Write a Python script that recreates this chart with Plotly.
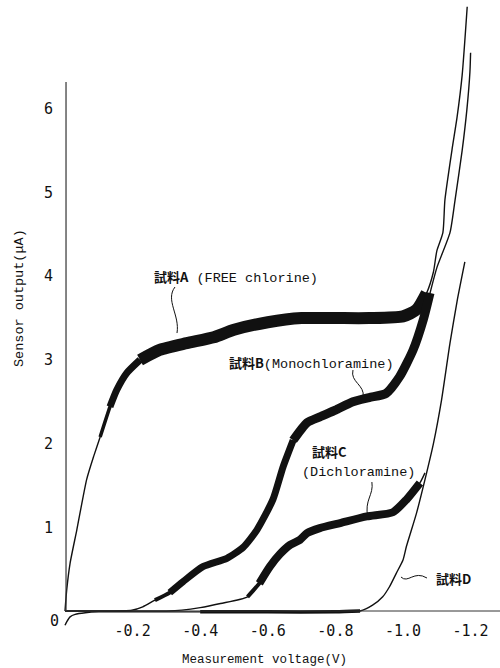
import plotly.graph_objects as go

# ---------------- data ----------------
# Measurement voltage (V) and sensor output (uA)
a_v = [0.0, -0.005, -0.015, -0.035, -0.064, -0.085, -0.104, -0.133, -0.153, -0.182,
       -0.222, -0.28, -0.36, -0.44, -0.5, -0.6, -0.7, -0.8, -0.9, -1.0,
       -1.04, -1.07, -1.09, -1.10, -1.118, -1.124, -1.145, -1.16, -1.175, -1.19]
a_i = [0.0, 0.25, 0.57, 0.97, 1.57, 1.85, 2.08, 2.44, 2.64, 2.84,
       3.0, 3.12, 3.2, 3.27, 3.36, 3.45, 3.5, 3.5, 3.5, 3.52,
       3.6, 3.8, 4.05, 4.3, 4.52, 4.91, 5.51, 5.9, 6.4, 7.22]

b_v = [0.0, -0.1, -0.198, -0.23, -0.266, -0.31, -0.349, -0.408, -0.479, -0.527,
       -0.568, -0.615, -0.645, -0.675, -0.716, -0.754, -0.8, -0.852, -0.9, -0.95,
       -0.99, -1.03, -1.06, -1.08, -1.10, -1.139, -1.154, -1.175, -1.189, -1.198, -1.20]
b_i = [0.0, 0.0, 0.01, 0.05, 0.13, 0.22, 0.35, 0.53, 0.63, 0.76,
       0.97, 1.33, 1.72, 2.04, 2.25, 2.32, 2.4, 2.5, 2.55, 2.6,
       2.8, 3.12, 3.48, 3.8, 4.1, 4.52, 4.91, 5.5, 5.99, 6.44, 6.67]

c_v = [0.0, -0.2, -0.3, -0.346, -0.4, -0.46, -0.54, -0.575, -0.606, -0.636,
       -0.666, -0.695, -0.716, -0.754, -0.814, -0.893, -0.97, -1.01, -1.05, -1.065]
c_i = [0.0, 0.0, 0.0, 0.01, 0.04, 0.09, 0.17, 0.33, 0.53, 0.68,
       0.79, 0.85, 0.93, 0.99, 1.05, 1.13, 1.18, 1.33, 1.53, 1.65]

d_v = [0.0, -0.005, -0.015, -0.03, -0.06, -0.1, -0.2, -0.4, -0.6, -0.8,
       -0.873, -0.91, -0.94, -0.96, -0.98, -1.0, -1.01, -1.04, -1.065, -1.09,
       -1.114, -1.139, -1.16, -1.183]
d_i = [-0.17, -0.13, -0.07, -0.04, -0.02, -0.01, -0.01, -0.01, -0.01, -0.01,
       0.0, 0.07, 0.17, 0.29, 0.45, 0.61, 0.77, 1.17, 1.57, 2.0,
       2.52, 3.2, 3.7, 4.17]

x_ticks = [-0.2, -0.4, -0.6, -0.8, -1.0, -1.2]
x_ticktext = ["-0.2", "-0.4", "-0.6", "-0.8", "-1.0", "-1.2"]
y_ticks = [1, 2, 3, 4, 5, 6]
y_ticktext = ["1", "2", "3", "4", "5", "6"]

# noisy (thick) sections: (start V, end V, line width)
a_bands = [(-0.10, -0.16, 3.5), (-0.13, -0.23, 7), (-0.21, -1.08, 12)]
b_bands = [(-0.26, -0.36, 4), (-0.30, -0.70, 7), (-0.66, -1.08, 9)]
c_bands = [(-0.54, -0.62, 4), (-0.57, -1.05, 8)]
d_bands = [(-0.35, -0.88, 3.5)]


def segment(v, i, start, end):
    pts = [(x, y) for x, y in zip(v, i) if end <= x <= start]
    return [p[0] for p in pts], [p[1] for p in pts]


fig = go.Figure()
INK = "#111111"
for v, i, bands in [(a_v, a_i, a_bands), (b_v, b_i, b_bands),
                    (c_v, c_i, c_bands), (d_v, d_i, d_bands)]:
    fig.add_trace(go.Scatter(x=v, y=i, mode="lines",
                             line=dict(color=INK, width=1.4, shape="spline", smoothing=0.6),
                             showlegend=False, hoverinfo="skip"))
    for s, e, w in bands:
        sv, si = segment(v, i, s, e)
        fig.add_trace(go.Scatter(x=sv, y=si, mode="lines",
                                 line=dict(color=INK, width=w, shape="spline", smoothing=0.6),
                                 showlegend=False, hoverinfo="skip"))

MONO = "Liberation Mono"
CJK = "font-family:Noto Sans CJK JP;font-weight:bold;font-size:13px"

annotations = [
    dict(x=-0.257, y=4.0, text=f'<span style="{CJK}">試料A</span> (FREE chlorine)',
         xanchor="left", yanchor="middle"),
    dict(x=-0.479, y=2.975, text=f'<span style="{CJK}">試料B</span>(Monochloramine)',
         xanchor="left", yanchor="middle"),
    dict(x=-0.725, y=1.90, text=f'<span style="{CJK}">試料C</span>',
         xanchor="left", yanchor="middle"),
    dict(x=-0.695, y=1.66, text="(Dichloramine)", xanchor="left", yanchor="middle"),
    dict(x=-1.092, y=0.394, text=f'<span style="{CJK}">試料D</span>',
         xanchor="left", yanchor="middle"),
]
for an in annotations:
    an.update(xref="x", yref="y", showarrow=False,
              font=dict(family=MONO, size=13.5, color=INK))

annotations += [
    dict(xref="paper", yref="y", x=-0.0114, y=-0.12, text="0", showarrow=False,
         xanchor="center", yanchor="middle",
         font=dict(family="DejaVu Sans Mono", size=15, color=INK)),
    dict(xref="x", yref="paper", x=-0.589, y=-0.051, text="Measurement voltage(V)",
         xanchor="center", yanchor="middle",
         showarrow=False, font=dict(family=MONO, size=12.5, color=INK)),
    dict(xref="paper", yref="paper", x=-0.0909, y=0.5255, text="Sensor output(μA)",
         xanchor="center", yanchor="middle",
         textangle=-90, showarrow=False, font=dict(family=MONO, size=13.5, color=INK)),
]

leader = dict(type="path", xref="x", yref="y", line=dict(color=INK, width=1))
shapes = [
    # axes
    dict(type="line", xref="x", yref="y", x0=0, x1=-1.3, y0=0, y1=0,
         line=dict(color="#333333", width=1)),
    dict(type="line", xref="x", yref="y", x0=-0.003, x1=-0.003, y0=0, y1=6.32,
         line=dict(color="#333333", width=1.2)),
    # leader lines
    dict(leader, path="M-0.3254,3.871 C-0.2959,3.716 -0.3402,3.536 -0.3314,3.321"),
    dict(leader, path="M-0.852,2.879 C-0.843,2.736 -0.888,2.700 -0.882,2.557"),
    dict(leader, path="M-0.908,1.541 C-0.914,1.386 -0.885,1.326 -0.896,1.123"),
    dict(leader, path="M-0.994,0.406 C-1.015,0.323 -1.0325,0.490 -1.071,0.394"),
]

fig.update_layout(
    width=500, height=668,
    margin=dict(l=60, r=0, t=0, b=40),
    paper_bgcolor="white", plot_bgcolor="white",
    xaxis=dict(range=[0.0148, -1.287], tickvals=x_ticks, ticktext=x_ticktext,
               showgrid=False, zeroline=False, showline=False, ticks="",
               tickfont=dict(family="DejaVu Sans Mono", size=15, color=INK),
               ticklabelstandoff=-8),
    yaxis=dict(range=[-0.203, 7.3], tickvals=y_ticks, ticktext=y_ticktext,
               showgrid=False, zeroline=False, showline=False, ticks="",
               tickfont=dict(family="DejaVu Sans Mono", size=15, color=INK),
               ticklabelstandoff=6),
    annotations=annotations,
    shapes=shapes,
)

fig.write_html("out.html")
